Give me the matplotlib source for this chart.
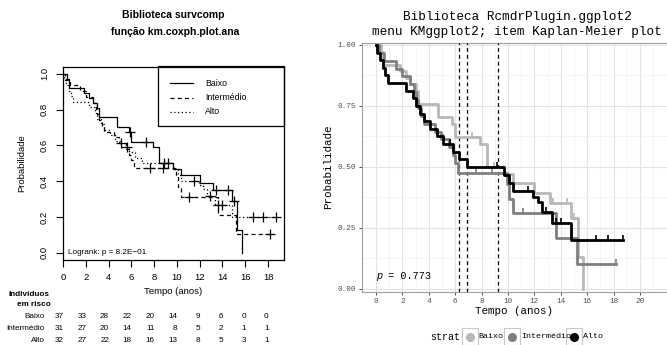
import numpy as np
import matplotlib
matplotlib.use('Agg')
import matplotlib.pyplot as plt
from matplotlib.lines import Line2D
from matplotlib.patches import Rectangle
import matplotlib.transforms as mtrans

# ---------------- data ----------------
groups = ['Baixo', 'Intermédio', 'Alto']

baixo_t = [0, 0.35, 0.5, 1.8, 2.3, 2.6, 3.0, 3.2, 4.7, 5.75, 6.0, 7.9, 8.4, 9.7, 10.4, 12.0, 13.2, 14.8, 15.3, 15.7]
baixo_s = [1.0, 0.973, 0.919, 0.892, 0.865, 0.838, 0.811, 0.757, 0.703, 0.676, 0.622, 0.594, 0.50, 0.47, 0.434, 0.393, 0.352, 0.29, 0.13, 0.0]
baixo_end = 15.7
baixo_cens = [5.85, 7.3, 8.9, 13.4, 14.5, 15.0]

interm_t = [0, 0.2, 0.6, 1.5, 2.0, 2.6, 2.9, 3.0, 3.2, 3.4, 3.6, 4.5, 4.9, 5.5, 5.8, 6.0, 6.2, 9.9, 10.1, 10.4, 13.6, 15.2]
interm_s = [1.0, 0.968, 0.935, 0.903, 0.871, 0.839, 0.806, 0.774, 0.742, 0.710, 0.677, 0.645, 0.613, 0.581, 0.548, 0.516, 0.474, 0.43, 0.37, 0.31, 0.21, 0.103]
interm_end = 18.2
interm_cens = [5.1, 7.6, 8.8, 11.1, 18.2]

alto_t = [0, 0.1, 0.3, 0.5, 0.7, 0.9, 2.3, 2.8, 3.0, 3.3, 3.6, 4.1, 4.6, 5.1, 5.8, 6.3, 6.9, 9.7, 10.1, 10.4, 11.9, 12.3, 12.6, 13.3, 14.8]
alto_s = [1.0, 0.969, 0.9375, 0.906, 0.875, 0.844, 0.8125, 0.781, 0.75, 0.719, 0.6875, 0.656, 0.625, 0.594, 0.5625, 0.531, 0.5, 0.467, 0.433, 0.40, 0.378, 0.357, 0.315, 0.27, 0.2]
alto_end = 18.7
alto_cens = [5.6, 9.2, 11.5, 12.9, 13.6, 14.0, 16.7, 17.6, 18.7]

medians = [9.27, 6.3, 6.87]

risk_times = [0, 2, 4, 6, 8, 10, 12, 14, 16, 18]
risk_baixo = [37, 33, 28, 22, 20, 14, 9, 6, 0, 0]
risk_interm = [31, 27, 20, 14, 11, 8, 5, 2, 1, 1]
risk_alto = [32, 27, 22, 18, 16, 13, 8, 5, 3, 1]

series = [
    (baixo_t, baixo_s, baixo_end, baixo_cens),
    (interm_t, interm_s, interm_end, interm_cens),
    (alto_t, alto_s, alto_end, alto_cens),
]
risks = [risk_baixo, risk_interm, risk_alto]

left_styles = ['-', (0, (3.2, 2.6)), (0, (1.0, 2.0))]
right_colors = ['#B8B8B8', '#7F7F7F', '#000000']

SANS = 'Liberation Sans'
MONO = 'Liberation Mono'

W, H = 667, 345
def fx(px):
    return px / W
def fy(py):
    return 1 - py / H

def step_val(t, s, x):
    i = np.searchsorted(np.asarray(t), x, side='right') - 1
    return np.asarray(s)[max(i, 0)]

fig = plt.figure(figsize=(6.67, 3.45), dpi=100)

# ---------------- left panel ----------------
axL = fig.add_axes([fx(63), fy(260), fx(284) - fx(63), fy(66.7) - fy(260)])
for (t, s, end, cens), ls in zip(series, left_styles):
    tt = list(t) + [end]
    ss = list(s) + [s[-1]]
    axL.step(tt, ss, where='post', color='black', lw=0.9, ls=ls)
    cy = [step_val(t, s, c) for c in cens]
    axL.plot(cens, cy, ls='none', marker='+', ms=7, mew=0.9, color='black')

axL.set_xlim(0, 19.4)
axL.set_ylim(-0.04, 1.04)
axL.set_xticks(risk_times)
axL.set_xticklabels([str(v) for v in risk_times], fontfamily=SANS, fontsize=6.8)
yt = [0, 0.2, 0.4, 0.6, 0.8, 1.0]
axL.set_yticks(yt)
axL.set_yticklabels([f'{v:.1f}' for v in yt], fontfamily=SANS, fontsize=6.8,
                    rotation=90, va='center')
axL.tick_params(axis='both', direction='out', length=5, width=0.8, color='black')
axL.tick_params(axis='x', pad=4)
axL.tick_params(axis='y', pad=5)
for sp in axL.spines.values():
    sp.set_linewidth(0.9)
    sp.set_color('black')

fig.text(fx(173), fy(15), 'Biblioteca survcomp', ha='center', va='center',
         fontfamily=SANS, fontweight='bold', fontsize=7.5)
fig.text(fx(175), fy(32), 'função km.coxph.plot.ana', ha='center', va='center',
         fontfamily=SANS, fontweight='bold', fontsize=7.5)
fig.text(fx(173), fy(291), 'Tempo (anos)', ha='center', va='center',
         fontfamily=SANS, fontsize=6.8)
fig.text(fx(22), fy(163), 'Probabilidade', ha='center', va='center', rotation=90,
         fontfamily=SANS, fontsize=6.8)

# legend (left)
def afx(px):
    return (px - 63) / 221
def afy(py):
    return (260 - py) / 193.3
axL.add_patch(Rectangle((afx(158), afy(126)), 1 - afx(158), 1 - afy(126) + 0.002,
                        transform=axL.transAxes, fill=False, ec='black', lw=0.9, clip_on=False))
for i, (g, ls) in enumerate(zip(groups, left_styles)):
    yy = afy(83 + 14.5 * i)
    axL.add_line(Line2D([afx(170), afx(193)], [yy, yy], transform=axL.transAxes,
                        color='black', lw=0.9, ls=ls))
    axL.text(afx(205), yy, g, transform=axL.transAxes, ha='left', va='center',
             fontfamily=SANS, fontsize=6.3)

axL.text(afx(68), afy(252), 'Logrank: p = 8.2E\u221201', transform=axL.transAxes,
         ha='left', va='center', fontfamily=SANS, fontsize=5.9)

# risk table
bt = mtrans.blended_transform_factory(axL.transData, fig.transFigure)
fig.text(fx(29), fy(294), 'Indivíduos', ha='center', va='center', fontfamily=SANS,
         fontweight='bold', fontsize=5.9)
fig.text(fx(34), fy(304.5), 'em risco', ha='center', va='center', fontfamily=SANS,
         fontweight='bold', fontsize=5.9)
row_y = [316, 328.5, 340.5]
for i, (g, r) in enumerate(zip(groups, risks)):
    yy = fy(row_y[i])
    fig.text(fx(44.5), yy, g, ha='right', va='center', fontfamily=SANS, fontsize=5.9)
    for tx, v in zip(risk_times, r):
        axL.text(tx + 0.05, yy, str(v), transform=bt, ha='right', va='center',
                 fontfamily=SANS, fontsize=5.9, clip_on=False)

# ---------------- right panel ----------------
axR = fig.add_axes([fx(362), fy(292), fx(681) - fx(362), fy(43) - fy(292)])
axR.set_xlim(-1.06, 23.1)
axR.set_ylim(-0.0123, 1.008)
axR.set_xticks(np.arange(0, 21, 2))
axR.set_xticks(np.arange(1, 23, 2), minor=True)
axR.set_yticks([0, 0.25, 0.5, 0.75, 1.0])
axR.set_yticks([0.125, 0.375, 0.625, 0.875], minor=True)
axR.grid(which='major', color='#E3E3E3', lw=0.8)
axR.grid(which='minor', color='#F0F0F0', lw=0.5)
axR.set_axisbelow(True)
axR.set_xticklabels([str(v) for v in range(0, 21, 2)], fontfamily=MONO, fontsize=5.5,
                    color='#4D4D4D')
axR.set_yticklabels(['0.00', '0.25', '0.50', '0.75', '1.00'], fontfamily=MONO,
                    fontsize=5.5, color='#4D4D4D')
axR.tick_params(which='major', direction='out', length=2.5, width=0.6, color='#333333', pad=2)
axR.tick_params(which='minor', length=0)
for sp in axR.spines.values():
    sp.set_color('#A0A0A0')
    sp.set_linewidth(0.8)

for m in medians:
    axR.axvline(m, color='black', lw=0.9, ls=(0, (3, 2.5)), zorder=3)

for (t, s, end, cens), col in zip(series, right_colors):
    tt = list(t) + [end]
    ss = list(s) + [s[-1]]
    axR.step(tt, ss, where='post', color=col, lw=2.0, zorder=4)
    cy = [step_val(t, s, c) for c in cens]
    axR.plot(cens, np.array(cy) + 0.008, ls='none', marker='|', ms=4.5, mew=1.2,
             color=col, zorder=4)

tp = axR.text(0, 0.033, 'p', fontfamily=MONO, fontstyle='italic', fontsize=7.3,
              ha='left', va='bottom')
axR.annotate(' = 0.773', xy=(1, 0), xycoords=tp, va='bottom', ha='left',
             fontfamily=MONO, fontsize=7.3)

fig.text(fx(517), fy(17), 'Biblioteca RcmdrPlugin.ggplot2', ha='center', va='center',
         fontfamily=MONO, fontsize=9.2)
fig.text(fx(517), fy(32), 'menu KMggplot2; item Kaplan-Meier plot', ha='center',
         va='center', fontfamily=MONO, fontsize=9.2)
fig.text(fx(514), fy(311), 'Tempo (anos)', ha='center', va='center', fontfamily=MONO,
         fontsize=7.8)
fig.text(fx(328), fy(167), 'Probabilidade', ha='center', va='center', rotation=90,
         fontfamily=MONO, fontsize=7.8)

# bottom legend
fig.text(fx(430), fy(337), 'strat', ha='left', va='center', fontfamily=MONO, fontsize=7.2)
box_x = [462, 504, 566]
lab_x = [478.5, 521.5, 583]
for bx, lx, g, col in zip(box_x, lab_x, groups, right_colors):
    fig.add_artist(Rectangle((fx(bx), fy(344.5)), fx(16), fy(328) - fy(344.5),
                             transform=fig.transFigure, fill=True, fc='white',
                             ec='#C8C8C8', lw=0.8))
    fig.add_artist(Line2D([fx(bx + 8)], [fy(337)], transform=fig.transFigure,
                          marker='o', ms=5.5, color=col, ls='none'))
    fig.text(fx(lx), fy(337), g, ha='left', va='center', fontfamily=MONO, fontsize=6.0)

fig.savefig('out.png', dpi=100)
